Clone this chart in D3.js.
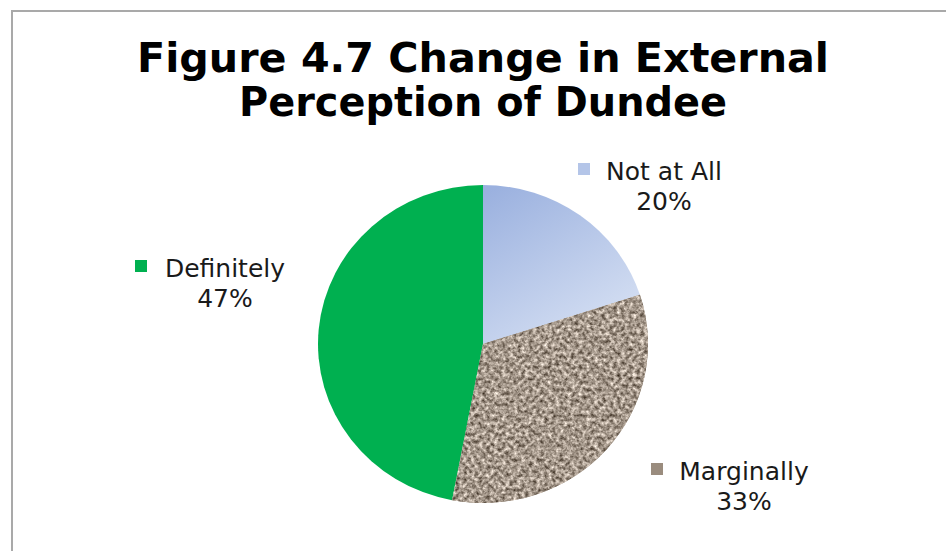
<!DOCTYPE html>
<html>
<head>
<meta charset="utf-8">
<script src="https://cdn.jsdelivr.net/npm/d3@7"></script>
<style>
  html, body { margin: 0; padding: 0; background: #fff; }
  svg { display: block; }
</style>
</head>
<body>
<svg id="chart" width="946" height="551"></svg>
<script>
// Survey answers, in clockwise order from 12 o'clock
const categories = ["Not at All", "Marginally", "Definitely"];
const values = [20, 33, 47];
const titleLines = ["Figure 4.7 Change in External", "Perception of Dundee"];

const svg = d3.select("#chart");
const W = 946, H = 551;

svg.append("rect").attr("width", W).attr("height", H).attr("fill", "#fff");
// chart area frame (right and bottom edges run off the canvas)
svg.append("rect")
  .attr("x", 12).attr("y", 11)
  .attr("width", W + 20).attr("height", H + 20)
  .attr("fill", "none").attr("stroke", "#a9a9a9").attr("stroke-width", 2);

const defs = svg.append("defs");

// soft blue gradient for "Not at All"
const grad = defs.append("linearGradient").attr("id", "blueGrad")
  .attr("x1", 0.1).attr("y1", 0).attr("x2", 0.7).attr("y2", 1);
grad.append("stop").attr("offset", 0).attr("stop-color", "#9bb1df");
grad.append("stop").attr("offset", 1).attr("stop-color", "#d6e0f3");

// granite texture for "Marginally"
const granite = defs.append("filter").attr("id", "granite")
  .attr("color-interpolation-filters", "sRGB")
  .attr("x", "-5%").attr("y", "-5%").attr("width", "110%").attr("height", "110%");
granite.append("feTurbulence").attr("type", "fractalNoise")
  .attr("baseFrequency", 0.26).attr("numOctaves", 3).attr("seed", 7).attr("result", "noise");
granite.append("feColorMatrix").attr("in", "noise").attr("type", "matrix")
  .attr("values", [
    "1.05 0 0 0 0.12",
    "1.05 0 0 0 0.07",
    "1.05 0 0 0 0.02",
    "0 0 0 0 1"
  ].join(" "))
  .attr("result", "tint");
granite.append("feGaussianBlur").attr("in", "tint").attr("stdDeviation", 0.4).attr("result", "soft");
granite.append("feComposite").attr("in", "soft").attr("in2", "SourceGraphic")
  .attr("operator", "in");

const fills = ["url(#blueGrad)", "#a89b8c", "#00b050"];
const swatch = ["#b4c5e8", "#9a8c7e", "#00b050"];

const cx = 483, cy = 344, rx = 165, ry = 159;

const pie = d3.pie().sort(null).value(d => d)(values);
const arc = d3.arc().innerRadius(0).outerRadius(rx);

const g = svg.append("g")
  .attr("transform", `translate(${cx},${cy}) scale(1,${ry / rx})`);

g.selectAll("path.slice").data(pie).join("path")
  .attr("class", "slice")
  .attr("d", arc)
  .attr("fill", (d, i) => fills[i]);

// texture overlay on the middle slice
g.append("path")
  .datum(pie[1])
  .attr("d", arc)
  .attr("fill", "#000")
  .attr("filter", "url(#granite)");

// title
const title = svg.append("g")
  .attr("font-family", "'DejaVu Sans', Verdana, sans-serif")
  .attr("font-weight", "bold").attr("font-size", 40).attr("fill", "#000")
  .attr("text-anchor", "middle");
const titleWidths = [692, 488];
titleLines.forEach((t, i) => {
  title.append("text")
    .attr("x", 483).attr("y", 72 + i * 44)
    .attr("textLength", titleWidths[i]).attr("lengthAdjust", "spacingAndGlyphs")
    .text(t);
});

// data labels: swatch + category on first line, percentage below
const labelPos = [
  { x: 664, y: 180, sq: 578 },
  { x: 744, y: 480, sq: 651 },
  { x: 225, y: 277, sq: 135 }
];
const lab = svg.append("g")
  .attr("font-family", "'DejaVu Sans', Verdana, sans-serif")
  .attr("font-size", 25).attr("fill", "#1a1a1a").attr("text-anchor", "middle");
const total = d3.sum(values);
categories.forEach((c, i) => {
  const p = labelPos[i];
  lab.append("rect")
    .attr("x", p.sq).attr("y", p.y - 17).attr("width", 12).attr("height", 12)
    .attr("fill", swatch[i]);
  lab.append("text").attr("x", p.x).attr("y", p.y).text(c);
  lab.append("text").attr("x", p.x).attr("y", p.y + 30)
    .text(Math.round(values[i] / total * 100) + "%");
});
</script>
</body>
</html>
